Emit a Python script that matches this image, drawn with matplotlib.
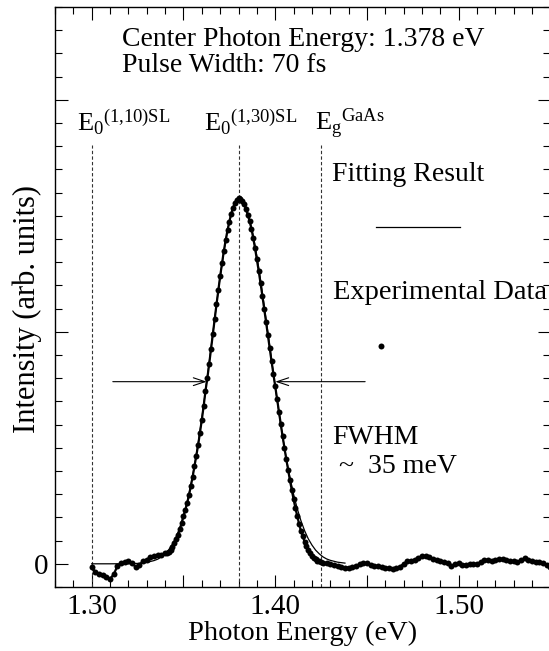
import numpy as np
import matplotlib
matplotlib.use('Agg')
from matplotlib import pyplot as plt
from matplotlib.ticker import MultipleLocator

# experimental data, in three pieces (different energy steps)
low_start, low_step = 1.300, 0.002
low_int = [-0.015, -0.035, -0.045, -0.050, -0.058, -0.065, -0.045, -0.010,
           0.002, 0.008, 0.010, 0.004, -0.015, -0.005, 0.012, 0.018,
           0.028, 0.033, 0.036, 0.040, 0.045]

peak_start, peak_step = 1.341, 0.001
peak_int = [0.048, 0.052, 0.060, 0.072, 0.088, 0.105, 0.125, 0.148, 0.175, 0.205,
            0.232, 0.262, 0.295, 0.335, 0.375, 0.420, 0.465, 0.512, 0.565, 0.620,
            0.680, 0.745, 0.800, 0.860, 0.925, 0.990, 1.055, 1.118, 1.180, 1.240,
            1.295, 1.348, 1.395, 1.438, 1.475, 1.508, 1.535, 1.555, 1.568, 1.575,
            1.572, 1.565, 1.552, 1.530, 1.505, 1.478, 1.445, 1.405, 1.360, 1.312,
            1.262, 1.210, 1.155, 1.100, 1.042, 0.985, 0.928, 0.872, 0.818, 0.765,
            0.710, 0.655, 0.602, 0.550, 0.500, 0.452, 0.405, 0.360, 0.318, 0.278,
            0.240, 0.205, 0.172, 0.142, 0.118, 0.095, 0.075, 0.058, 0.045, 0.035,
            0.026, 0.020, 0.014, 0.010, 0.007]

high_start, high_step = 1.426, 0.002
high_int = [0.004, 0.002, -0.002, -0.005, -0.008, -0.014, -0.017, -0.016, -0.013, -0.008,
            -0.002, 0.003, 0.002, -0.004, -0.008, -0.011, -0.013, -0.016, -0.020, -0.022,
            -0.018, -0.012, 0.000, 0.010, 0.014, 0.018, 0.026, 0.034, 0.032, 0.028,
            0.022, 0.015, 0.012, 0.008, 0.005, -0.008, -0.002, 0.003, -0.003, -0.004,
            0.000, -0.002, 0.000, 0.008, 0.016, 0.016, 0.013, 0.016, 0.020, 0.021,
            0.018, 0.014, 0.010, 0.006, 0.015, 0.024, 0.016, 0.010, 0.009, 0.006,
            0.002, -0.006, -0.012]

# fitting result
fit_energy = [1.300, 1.310, 1.320, 1.326, 1.330, 1.334, 1.336, 1.338, 1.340, 1.342,
              1.344, 1.346, 1.348, 1.350, 1.352, 1.354, 1.356, 1.358, 1.360, 1.362,
              1.364, 1.366, 1.368, 1.370, 1.372, 1.374, 1.376, 1.378, 1.380, 1.382,
              1.384, 1.386, 1.388, 1.390, 1.392, 1.394, 1.396, 1.398, 1.400, 1.402,
              1.404, 1.406, 1.408, 1.410, 1.412, 1.414, 1.416, 1.418, 1.420, 1.422,
              1.424, 1.426, 1.428, 1.430, 1.434, 1.438]
fit_int = [0.000, 0.000, 0.0005, 0.002, 0.006, 0.014, 0.020, 0.030, 0.043, 0.061,
           0.085, 0.116, 0.155, 0.205, 0.265, 0.338, 0.422, 0.519, 0.627, 0.745,
           0.867, 0.993, 1.118, 1.237, 1.345, 1.436, 1.507, 1.554, 1.574, 1.568,
           1.539, 1.487, 1.415, 1.326, 1.224, 1.112, 0.997, 0.882, 0.763, 0.653,
           0.550, 0.456, 0.373, 0.300, 0.238, 0.186, 0.143, 0.108, 0.081, 0.059,
           0.043, 0.030, 0.021, 0.015, 0.007, 0.003]

# transition energies
trans_energy = [1.300, 1.380, 1.425]
trans_labels = [r'$\mathrm{E}_0{}^{(1{,}10)\mathrm{SL}}$',
                r'$\mathrm{E}_0{}^{(1{,}30)\mathrm{SL}}$',
                r'$\mathrm{E}_\mathrm{g}{}^{\mathrm{GaAs}}$']
trans_label_x = [1.2918, 1.3612, 1.4219]

# FWHM
half_max = 0.785
fwhm_left = 1.3627
fwhm_right = 1.400

plt.rcParams['font.family'] = 'Liberation Serif'
plt.rcParams['mathtext.fontset'] = 'custom'
plt.rcParams['mathtext.rm'] = 'Liberation Serif'
plt.rcParams['mathtext.it'] = 'Liberation Serif:italic'


def main():
    e_low = low_start + low_step * np.arange(len(low_int))
    e_peak = peak_start + peak_step * np.arange(len(peak_int))
    e_high = high_start + high_step * np.arange(len(high_int))
    energy = np.concatenate([e_low, e_peak, e_high])
    intensity = np.concatenate([low_int, peak_int, high_int])

    fig = plt.figure(figsize=(5.49, 6.51), dpi=100)
    ax = fig.add_axes([0.1002, 0.0983, 0.9025, 0.891])

    for e in trans_energy:
        ax.plot([e, e], [-0.1, 1.806], color='#333333', lw=0.8,
                linestyle=(0, (3, 2)))

    ax.plot(fit_energy, fit_int, color='black', lw=0.9)
    ax.plot(energy, intensity, '-', color='black', lw=1.6)
    ax.plot(energy, intensity, 'o', color='black', ms=4.3, mew=0)

    arrow = dict(arrowstyle='->,head_length=0.6,head_width=0.2', lw=0.8,
                 color='black', shrinkA=0, shrinkB=0, mutation_scale=14)
    ax.annotate('', xy=(fwhm_left, half_max), xytext=(1.3115, half_max),
                arrowprops=arrow)
    ax.annotate('', xy=(fwhm_right, half_max), xytext=(1.449, half_max),
                arrowprops=arrow)

    for x, lab in zip(trans_label_x, trans_labels):
        ax.text(x, 1.868, lab, fontsize=19, va='baseline', ha='left')

    ax.text(1.3164, 2.232, 'Center Photon Energy: 1.378 eV', fontsize=20,
            va='baseline')
    ax.text(1.3164, 2.121, 'Pulse Width: 70 fs', fontsize=20, va='baseline')
    ax.text(1.4311, 1.648, 'Fitting Result', fontsize=20, va='baseline')
    ax.plot([0.648, 0.818], [0.621, 0.621], transform=ax.transAxes,
            color='black', lw=0.9)
    ax.text(1.4315, 1.142, 'Experimental Data', fontsize=20.5, va='baseline',
            clip_on=False)
    ax.plot([0.658], [0.4155], 'o', transform=ax.transAxes,
            color='black', ms=4.3, mew=0)
    ax.text(1.4311, 0.517, 'FWHM', fontsize=20, va='baseline')
    ax.text(1.4311, 0.392, ' ~  35 meV', fontsize=20, va='baseline')

    ax.set_xlim(1.28, 1.55)
    ax.set_ylim(-0.1, 2.4)
    ax.xaxis.set_minor_locator(MultipleLocator(0.01))
    ax.set_xticks([1.30, 1.35, 1.40, 1.45, 1.50, 1.55])
    ax.set_xticklabels(['1.30', '', '1.40', '', '1.50', ''])
    ax.set_yticks([0, 1, 2])
    ax.set_yticklabels(['0', '', ''])
    ax.yaxis.set_minor_locator(MultipleLocator(0.1))
    ax.tick_params(which='both', direction='in', top=True, right=True,
                   labelsize=21, width=0.8)
    ax.tick_params(which='major', length=9, pad=5)
    ax.tick_params(which='minor', length=4.8)
    for s in ax.spines.values():
        s.set_linewidth(1.0)

    ax.set_xlabel('Photon Energy (eV)', fontsize=20.5)
    ax.set_ylabel('Intensity (arb. units)', fontsize=22)
    ax.xaxis.set_label_coords(0.5, -0.058)
    ax.yaxis.set_label_coords(-0.027, 0.48)

    fig.savefig('out.png', dpi=100)


if __name__ == '__main__':
    main()
